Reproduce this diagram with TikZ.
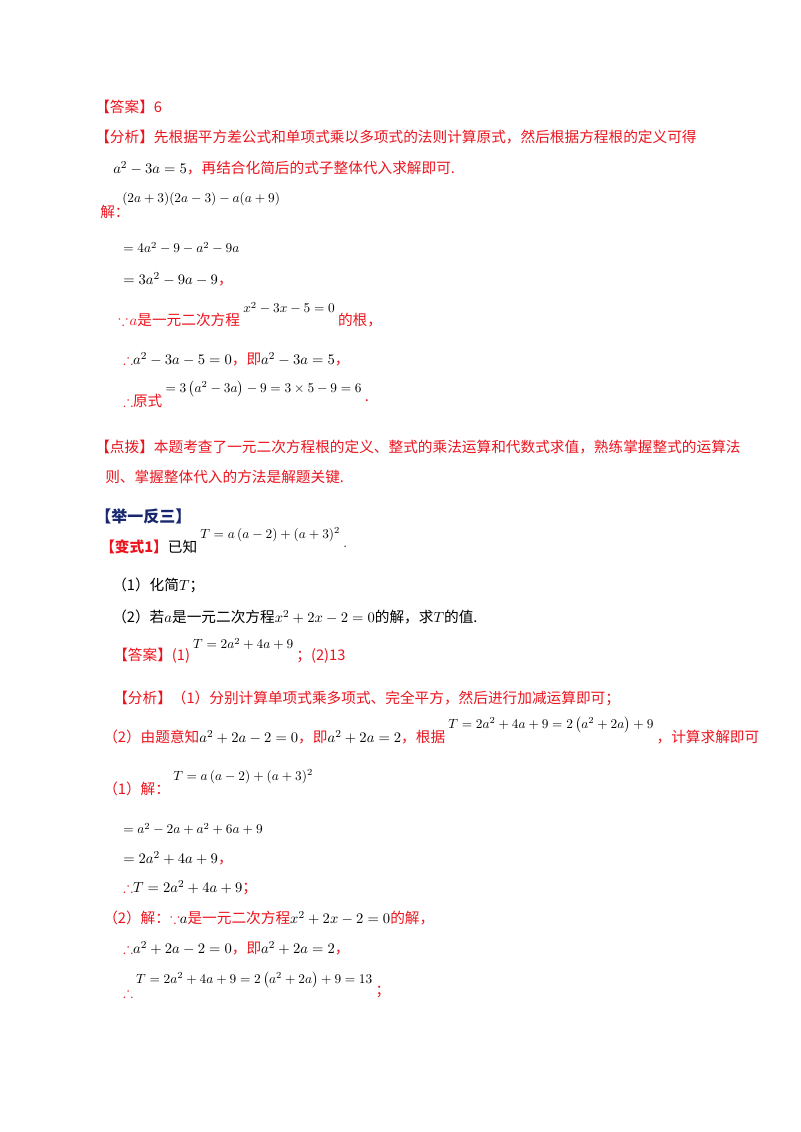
\documentclass[tikz,border=0pt]{standalone}
\usepackage{amssymb}
\usepackage{fontspec}
\newfontfamily\cjk{Noto Sans CJK SC}
\definecolor{ansred}{RGB}{235,20,30}
\definecolor{headblue}{RGB}{25,40,110}
\newcommand{\bk}[1]{\textcolor{black}{#1}}
\begin{document}
\begin{tikzpicture}[x=0.75pt,y=-0.75pt,
    line/.style={anchor=west, inner sep=0pt, font=\cjk\fontsize{11}{13}\selectfont, text=ansred},
    eq/.style={anchor=west, inner sep=0pt, font=\fontsize{10}{12}\selectfont, text=black},
    up/.style={xshift=2pt, yshift=9pt}
  ]
  \useasboundingbox (0,0) rectangle (800,1132);
  % example
  \node[line] (ans) at (95,107) {【答案】6};
  \node[line] (ana) at (95,137) {【分析】先根据平方差公式和单项式乘以多项式的法则计算原式，然后根据方程根的定义可得};
  \node[line] (ana2) at (113,168) {\bk{$a^2-3a=5$}，再结合化简后的式子整体代入求解即可.};
  \node[line] (sol) at (100,212) {解：};
  \node[eq] (s0) at (122,199) {$(2a+3)(2a-3)-a(a+9)$};
  \node[eq] (s1) at (123,248) {$=4a^2-9-a^2-9a$};
  \node[line] (s2) at (123,279) {\bk{$=3a^2-9a-9$}，};
  \node[line] (s3) at (118,320) {$\because\! a$是一元二次方程};
  \node[eq, up] (s3m) at (s3.east) {$x^2-3x-5=0$};
  \node[line] (s3e) at ([xshift=2pt]s3m.east |- s3.east) {的根，};
  \node[line] (s4) at (123,359) {$\therefore$\bk{$a^2-3a-5=0$}，即\bk{$a^2-3a=5$}，};
  \node[line] (s5) at (123,401) {$\therefore$原式};
  \node[eq, up] (s5m) at (s5.east) {$=3\left(a^2-3a\right)-9=3\times5-9=6$};
  \node[line] (s5e) at ([xshift=2pt]s5m.east |- s5.east) {.};
  \node[line] (tip) at (95,447) {【点拨】本题考查了一元二次方程根的定义、整式的乘法运算和代数式求值，熟练掌握整式的运算法};
  \node[line] (tip2) at (105,477) {则、掌握整体代入的方法是解题关键.};
  % practice
  \node[line, text=headblue, font=\cjk\bfseries\fontsize{12}{14}\selectfont] (head) at (95,516) {【举一反三】};
  \node[line, font=\cjk\bfseries\fontsize{11}{13}\selectfont] (var) at (100,547) {【变式1】\bk{\mdseries 已知}};
  \node[eq, up] (varm) at (var.east) {$T=a\left(a-2\right)+(a+3)^2$};
  \node[eq] (vare) at ([xshift=2pt]varm.east |- var.east) {.};
  \node[line, text=black] (q1) at (112,585) {（1）化简$T$；};
  \node[line, text=black] (q2) at (112,617) {（2）若$a$是一元二次方程$x^2+2x-2=0$的解，求$T$的值.};
  \node[line] (ans2) at (113,656) {【答案】(1)};
  \node[eq, up] (ans2m) at (ans2.east) {$T=2a^2+4a+9$};
  \node[line] (ans2e) at ([xshift=2pt]ans2m.east |- ans2.east) {；(2)13};
  \node[line] (an1) at (113,698) {【分析】（1）分别计算单项式乘多项式、完全平方，然后进行加减运算即可；};
  \node[line] (an2) at (103,737) {（2）由题意知\bk{$a^2+2a-2=0$}，即\bk{$a^2+2a=2$}，根据};
  \node[eq, up] (an2m) at (an2.east) {$T=2a^2+4a+9=2\left(a^2+2a\right)+9$};
  \node[line] (an2e) at ([xshift=2pt]an2m.east |- an2.east) {，计算求解即可};
  \node[line] (p1) at (103,789) {（1）解：};
  \node[eq, up] (p1m) at (p1.east) {$T=a\left(a-2\right)+(a+3)^2$};
  \node[eq] (p2) at (123,829) {$=a^2-2a+a^2+6a+9$};
  \node[line] (p3) at (123,858) {\bk{$=2a^2+4a+9$}，};
  \node[line] (p4) at (123,888) {$\therefore$\bk{$T=2a^2+4a+9$}；};
  \node[line] (p5) at (103,918) {（2）解：$\because$\bk{$a$}是一元二次方程\bk{$x^2+2x-2=0$}的解，};
  \node[line] (p6) at (123,948) {$\therefore$\bk{$a^2+2a-2=0$}，即\bk{$a^2+2a=2$}，};
  \node[line] (p7) at (123,992) {$\therefore$};
  \node[eq, up] (p7m) at (p7.east) {$T=2a^2+4a+9=2\left(a^2+2a\right)+9=13$};
  \node[line] (p7e) at ([xshift=2pt]p7m.east |- p7.east) {；};
\end{tikzpicture}
\end{document}
